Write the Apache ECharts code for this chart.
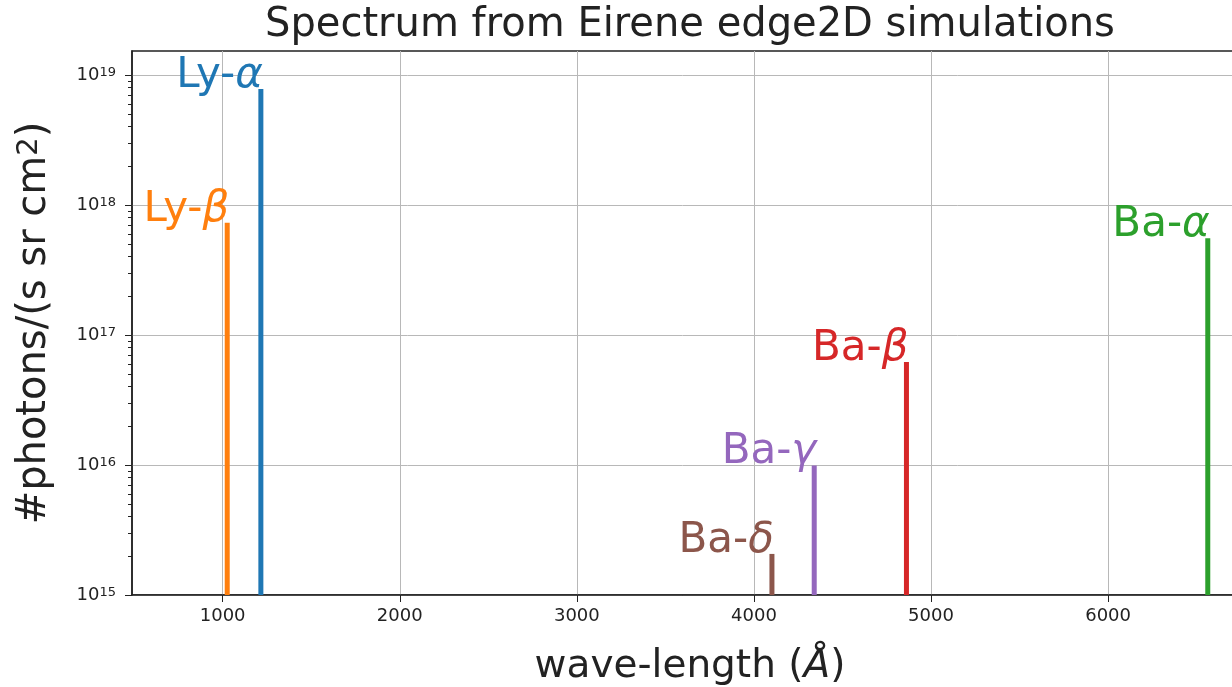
<!DOCTYPE html>
<html>
<head>
<meta charset="utf-8">
<title>Spectrum from Eirene edge2D simulations</title>
<script src="https://cdn.jsdelivr.net/npm/echarts@6/dist/echarts.min.js"></script>
<style>
  html, body { margin: 0; padding: 0; background: #ffffff; }
  #chart { width: 1232px; height: 687px; }
</style>
</head>
<body>
<div id="chart"></div>
<script>
// Hydrogen emission lines: label prefix, Greek suffix, wavelength (Å) and photon flux
const linePrefixes = ['Ly-', 'Ly-', 'Ba-', 'Ba-', 'Ba-', 'Ba-'];
const lineGreek    = ['β', 'α', 'δ', 'γ', 'β', 'α'];
const wavelengths  = [1025.7, 1215.7, 4101.7, 4340.5, 4861.3, 6562.8];
const fluxes       = [7.3e17, 7.8e18, 2.07e15, 9.9e15, 6.2e16, 5.55e17];

// Axis ticks
const xTicks = [1000, 2000, 3000, 4000, 5000, 6000];
const yTicks = [1e15, 1e16, 1e17, 1e18, 1e19];
const yTickExponents = { 1e15: '15', 1e16: '16', 1e17: '17', 1e18: '18', 1e19: '19' };

// Axis extents
const X_MIN = 488, X_MAX = 6790;
const Y_MIN = 1e15, Y_MAX = 1.53e19;

// Palette (matplotlib tab10 order used per line)
const lineColors = ['#ff7f0e', '#1f77b4', '#8c564b', '#9467bd', '#d62728', '#2ca02c'];

// Minor ticks of the log axis: 2..9 within each decade
const yMinorTicks = [];
for (let e = 15; e < 19; e++) {
  for (let m = 2; m <= 9; m++) yMinorTicks.push(m * Math.pow(10, e));
}

const FONT = 'DejaVu Sans';
const TEXT_COLOR = '#222222';

const seriesData = wavelengths.map((w, i) => [w, fluxes[i], i]);

const chart = echarts.init(document.getElementById('chart'), null, { renderer: 'canvas' });

chart.setOption({
  backgroundColor: '#ffffff',
  animation: false,
  title: {
    text: 'Spectrum from Eirene edge2D simulations',
    left: 685,
    textAlign: 'center',
    top: 1,
    textStyle: { fontFamily: FONT, fontSize: 40, fontWeight: 'normal', color: TEXT_COLOR }
  },
  grid: {
    left: 132, top: 51, width: 1116, height: 544,
    outerBoundsMode: 'none',
    show: true, borderColor: '#222222', borderWidth: 1.5, backgroundColor: 'transparent'
  },
  xAxis: {
    type: 'value',
    min: X_MIN, max: X_MAX,
    name: 'wave-length ({i|Å})',
    nameLocation: 'middle',
    nameGap: 52,
    nameTextStyle: {
      fontFamily: FONT, fontSize: 39, color: TEXT_COLOR,
      rich: { i: { fontFamily: FONT, fontSize: 39, fontStyle: 'italic', color: TEXT_COLOR } }
    },
    axisLine: { show: true, lineStyle: { color: '#222222', width: 1.5 } },
    axisTick: { show: true, inside: false, length: 7, customValues: xTicks, lineStyle: { color: '#222222', width: 1 } },
    axisLabel: {
      customValues: xTicks, margin: 12, fontFamily: FONT, fontSize: 18, color: TEXT_COLOR,
      formatter: v => String(v)
    },
    splitLine: { show: true, lineStyle: { color: '#b8b8b8', width: 1 } }
  },
  yAxis: [
    {
      type: 'log',
      logBase: 10,
      min: Y_MIN, max: Y_MAX,
      name: '#photons/(s sr cm{s|2})',
      nameLocation: 'middle',
      nameGap: 77,
      nameRotate: 90,
      nameTextStyle: {
        fontFamily: FONT, fontSize: 40, color: TEXT_COLOR,
        rich: { s: { fontFamily: FONT, fontSize: 29, color: TEXT_COLOR, verticalAlign: 'top' } }
      },
      axisLine: { show: true, lineStyle: { color: '#222222', width: 1.5 } },
      axisTick: { show: true, inside: false, length: 7, customValues: yTicks, lineStyle: { color: '#222222', width: 1 } },
      axisLabel: {
        customValues: yTicks,
        margin: 16,
        formatter: v => '{b|10}{s|' + (yTickExponents[v] || Math.round(Math.log10(v))) + '}',
        rich: {
          b: { fontFamily: FONT, fontSize: 18, color: TEXT_COLOR },
          s: { fontFamily: FONT, fontSize: 13, color: TEXT_COLOR, verticalAlign: 'top' }
        }
      },
      splitLine: { show: true, lineStyle: { color: '#b8b8b8', width: 1 } }
    },
    {
      // minor ticks only
      type: 'log',
      logBase: 10,
      min: Y_MIN, max: Y_MAX,
      position: 'left',
      axisLine: { show: false },
      axisTick: { show: true, inside: false, length: 4, customValues: yMinorTicks, lineStyle: { color: '#222222', width: 1 } },
      axisLabel: { show: false },
      splitLine: { show: false }
    }
  ],
  series: [{
    type: 'custom',
    clip: false,
    xAxisIndex: 0,
    yAxisIndex: 0,
    encode: { x: 0, y: 1 },
    data: seriesData,
    renderItem: function (params, api) {
      const idx = api.value(2);
      const base = api.coord([api.value(0), Y_MIN]);
      const top = api.coord([api.value(0), api.value(1)]);
      const color = lineColors[idx];
      return {
        type: 'group',
        children: [
          {
            type: 'line',
            shape: { x1: base[0], y1: base[1], x2: top[0], y2: top[1] },
            style: { stroke: color, lineWidth: 5, lineCap: 'butt' }
          },
          {
            type: 'text',
            x: top[0] + 2,
            y: top[1] + 8,
            style: {
              text: linePrefixes[idx] + '{g|' + lineGreek[idx] + '}',
              fontFamily: FONT,
              fontSize: 42,
              fill: color,
              align: 'right',
              verticalAlign: 'bottom',
              rich: { g: { fontFamily: FONT, fontSize: 42, fontStyle: 'italic', fill: color, color: color } }
            }
          }
        ]
      };
    }
  }]
});
</script>
</body>
</html>
